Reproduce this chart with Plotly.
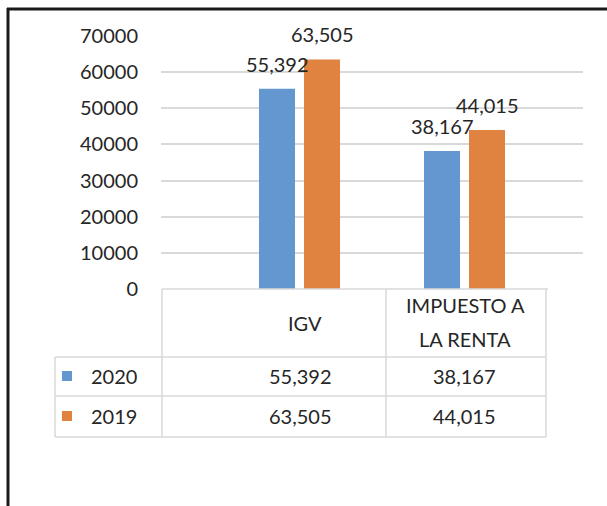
import plotly.graph_objects as go

# ---- data ----
categories = ["IGV", "IMPUESTO A LA RENTA"]
header_lines = [["IGV"], ["IMPUESTO A", "LA RENTA"]]
series_names = ["2020", "2019"]
values_2020 = [55392, 38167]
values_2019 = [63505, 44015]
colors = ["#6497cf", "#e08240"]
y_ticks = [0, 10000, 20000, 30000, 40000, 50000, 60000, 70000]

W, H = 607, 506
L, R, T, B = 161, 583, 36, 289  # plot area in pixels

def px(x):
    return (x - L) / (R - L)

def py(y):
    return (B - y) / (B - T)

FONT = "Lato, 'Open Sans', sans-serif"
TXT = "#262626"
GRID = "#d9d9d9"

series_values = [values_2020, values_2019]
fig = go.Figure()
for name, vals, col in zip(series_names, series_values, colors):
    fig.add_trace(go.Bar(x=categories, y=vals, name=name, marker_color=col,
                         marker_line_width=0, showlegend=False))

annotations = []
# data labels above bars
for i, (vals) in enumerate(series_values):
    shift = -22.5 if i == 0 else 22.5
    for c, v in zip(categories, vals):
        annotations.append(dict(x=c, y=v, xref="x", yref="y", text=f"{v:,}",
                                showarrow=False, xshift=shift, yshift=25,
                                yanchor="middle", xanchor="center",
                                font=dict(family=FONT, size=20, color=TXT)))

shapes = []
def line(x0, y0, x1, y1, color=GRID, width=1.5):
    shapes.append(dict(type="line", xref="paper", yref="paper",
                       x0=px(x0), y0=py(y0), x1=px(x1), y1=py(y1),
                       line=dict(color=color, width=width), layer="above"))

# data table grid
line(162, 289, 548, 289)
line(162, 289, 162, 437)
line(386, 289, 386, 437)
line(546, 289, 546, 437)
line(55, 357, 546, 357)
line(55, 396, 546, 396)
line(55, 437, 546, 437)
line(55, 357, 55, 437)

# header labels
col_centers = [305, 465]
for lines, cx in zip(header_lines, col_centers):
    n = len(lines)
    ys = [323] if n == 1 else [305, 339]
    for t, yy in zip(lines, ys):
        annotations.append(dict(x=px(cx), y=py(yy), xref="paper", yref="paper",
                                text=t, showarrow=False, xanchor="center",
                                yanchor="middle",
                                font=dict(family=FONT, size=20, color=TXT)))

# rows
val_centers = [300, 464]
row_y = [376, 416]
for name, vals, col, ry in zip(series_names, series_values, colors, row_y):
    shapes.append(dict(type="rect", xref="paper", yref="paper",
                       x0=px(62), x1=px(72), y0=py(ry - 5), y1=py(ry + 5),
                       fillcolor=col, line=dict(width=0), layer="above"))
    annotations.append(dict(x=px(89), y=py(ry), xref="paper", yref="paper",
                            text=name, showarrow=False, xanchor="left",
                            yanchor="middle",
                            font=dict(family=FONT, size=20, color=TXT)))
    for v, cx in zip(vals, val_centers):
        annotations.append(dict(x=px(cx), y=py(ry), xref="paper", yref="paper",
                                text=f"{v:,}", showarrow=False, xanchor="center",
                                yanchor="middle",
                                font=dict(family=FONT, size=20, color=TXT)))

# outer black frame (top and left)
line(7, 9, 607, 9, color="#1a1a1a", width=3)
line(8, 8, 8, 506, color="#1a1a1a", width=3)

# x range so category centres land at 299.5 and 464.5
unit = 165.0
x0_pix = 299.5
xr = [(L - x0_pix) / unit, (R - x0_pix) / unit]

fig.update_layout(
    width=W, height=H,
    margin=dict(l=L, r=W - R, t=T, b=H - B, pad=0),
    paper_bgcolor="white", plot_bgcolor="white",
    barmode="group", bargap=0.4545, bargroupgap=0.2,
    showlegend=False,
    shapes=shapes, annotations=annotations,
    xaxis=dict(range=xr, showticklabels=False, showgrid=False,
               zeroline=False, showline=False, ticks=""),
    yaxis=dict(range=[0, 70000], tickvals=y_ticks,
               ticktext=[str(v) for v in y_ticks],
               showgrid=True, gridcolor=GRID, gridwidth=1.5,
               zeroline=True, zerolinecolor="white", zerolinewidth=2,
               showline=False, ticks="", ticklabelstandoff=22,
               tickfont=dict(family=FONT, size=20, color=TXT)),
)

fig.write_html("out.html", config={"displayModeBar": False},
               post_script="document.body.style.margin='0';document.body.style.overflow='hidden';")
